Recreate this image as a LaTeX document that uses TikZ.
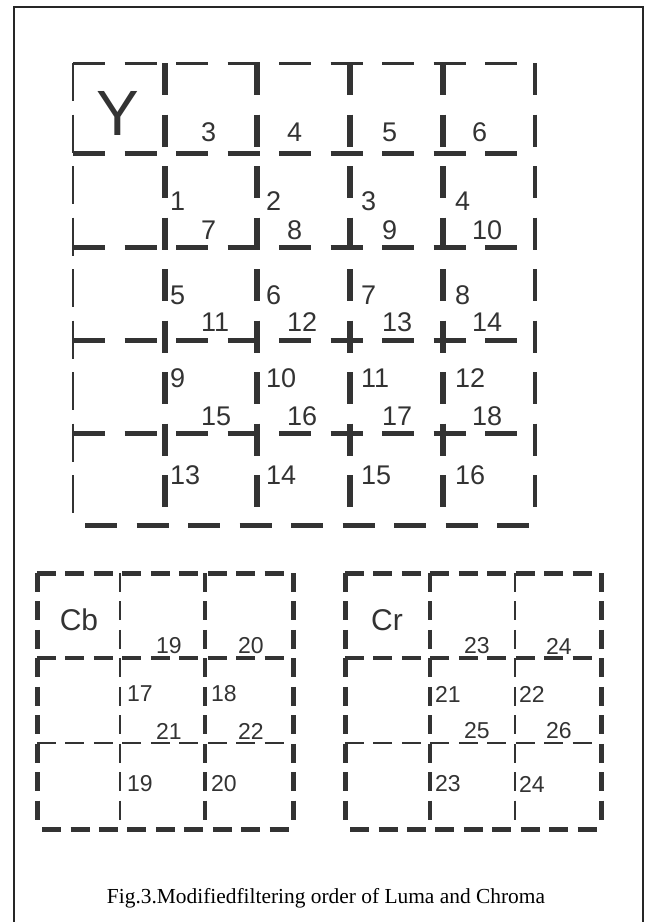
\documentclass[tikz,border=0pt]{standalone}
\usepackage{fontspec}
\setmainfont{Liberation Serif}
\setsansfont{Liberation Sans}
\definecolor{grisLinea}{HTML}{333333}
\tikzset{
  ydash/.style={grisLinea,dash pattern=on 32pt off 19.5pt},
  cdash/.style={grisLinea,dash pattern=on 19pt off 9.46pt},
  ynum/.style={font=\sffamily\fontsize{27}{27}\selectfont,text=grisLinea,inner sep=0pt,anchor=west},
  cnum/.style={font=\sffamily\fontsize{23}{23}\selectfont,text=grisLinea,inner sep=0pt,anchor=west},
}
\begin{document}
\begin{tikzpicture}[x=1pt,y=-1pt]
  \useasboundingbox (0,0) rectangle (653,922);
  \draw[line width=1.3pt,black!85] (14,922) -- (14,7) -- (643,7) -- (643,922);

  \draw[ydash,line width=3pt] (73,63) -- (535,63);
  \draw[grisLinea,dash pattern=on 38pt off 13.5pt,line width=1.5pt] (73,63) -- (73,525);
  \foreach \y in {153,247,340,433}
    \draw[ydash,line width=5pt] (73,\y) -- (535,\y);
  \foreach \x in {165,257,350,443}
    \draw[ydash,line width=6.5pt] (\x,63) -- (\x,525);
  \draw[ydash,line width=4pt] (535,63) -- (535,525);
  \draw[ydash,dash phase=39.5pt,line width=5pt] (73,525) -- (535,525);
  \node[font=\sffamily\fontsize{64}{64}\selectfont,text=grisLinea,inner sep=0pt] (lumaY) at (118,113) {Y};
  \foreach \yy [count=\r from 0] in {132,230,322,416}
    \foreach \xx [count=\c from 0] in {201,287,382,472}{
      \pgfmathtruncatemacro\num{3+4*\r+\c}
      \node[ynum] (yh\num) at (\xx,\yy) {\num};
    }
  \foreach \yy [count=\r from 0] in {201,295,378,475}
    \foreach \xx [count=\c from 0] in {170,266,361,455}{
      \pgfmathtruncatemacro\num{1+4*\r+\c}
      \node[ynum] (yv\num) at (\xx,\yy) {\num};
    }

  \foreach \ox/\nm/\k/\tx/\tn in {0/Cb/0/168/83,308/Cr/4/85/170}{
    \begin{scope}[shift={(37+\ox,573)}]
      \draw[cdash,line width=5pt] (0,0) -- (256,0);
      \draw[cdash,line width=5pt] (0,0) -- (0,256);
      \draw[cdash,line width=5pt] (256,0) -- (256,256);
      \draw[cdash,dash phase=23.4pt,line width=5pt] (0,256) -- (256,256);
      \draw[cdash,line width=4pt] (0,85) -- (256,85);
      \draw[cdash,line width=1.8pt] (0,170) -- (256,170);
      \draw[cdash,line width=4pt] (\tx,0) -- (\tx,256);
      \draw[cdash,line width=1.8pt] (\tn,0) -- (\tn,256);
    \end{scope}
    \node[font=\sffamily\fontsize{30}{30}\selectfont,text=grisLinea,inner sep=0pt] (\nm) at (79+\ox,620) {\nm};
    \foreach \yy [count=\r from 0] in {646,731}
      \foreach \xx [count=\c from 0] in {156,238}{
        \pgfmathtruncatemacro\num{19+\k+2*\r+\c}
        \node[cnum] (\nm h\num) at (\xx+\ox,\yy) {\num};
      }
    \foreach \yy [count=\r from 0] in {694,784}
      \foreach \xx [count=\c from 0] in {127,211}{
        \pgfmathtruncatemacro\num{17+\k+2*\r+\c}
        \node[cnum] (\nm v\num) at (\xx+\ox,\yy) {\num};
      }
  }

  \node[font=\fontsize{21.4}{21.4}\selectfont,inner sep=0pt] (caption) at (326,898) {Fig.3.Modifiedfiltering order of Luma and Chroma};
\end{tikzpicture}
\end{document}
